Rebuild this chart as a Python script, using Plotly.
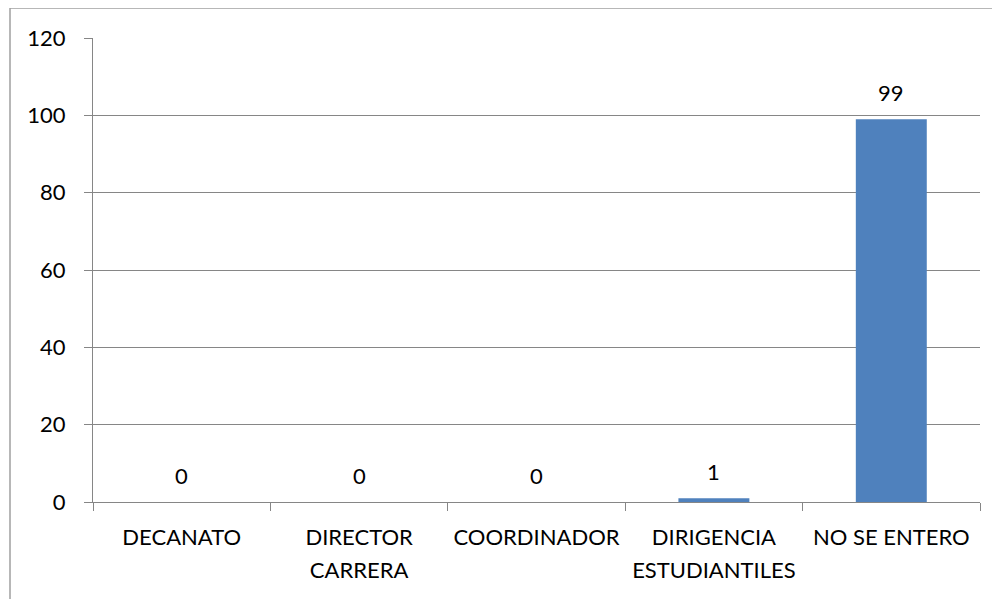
import plotly.graph_objects as go

categories = ["DECANATO", "DIRECTOR<br>CARRERA", "COORDINADOR", "DIRIGENCIA<br>ESTUDIANTILES", "NO SE ENTERO"]
values = [0, 0, 0, 1, 99]
y_ticks = [0, 20, 40, 60, 80, 100, 120]

# page has an 8px body margin; target positions are in screen pixels
OFF = 8
W, H = 1000, 599
left, right, top, bottom = 93, 980, 38, 502  # plot area on screen
ml = left - OFF
mt = top - OFF
mr = W - (right - OFF)
mb = H - (bottom - OFF)
pw, ph = right - left, bottom - top

def px_x(p):
    return (p - left) / pw

def px_y(p):
    return (bottom - p) / ph

FS = 22
tick_text = ["<span style='font-size:%dpx'>%s</span>" % (FS, c.replace("<br>", "</span><br><span style='font-size:%dpx'>" % FS)) for c in categories]

fig = go.Figure(go.Bar(
    x=categories, y=values,
    marker=dict(color="#4F81BD", line=dict(width=0)),
    width=0.4,
    hoverinfo="skip",
))

for c, v in zip(categories, values):
    fig.add_annotation(
        x=c, y=v, text=str(v), showarrow=False, yanchor="bottom",
        yshift=11, font=dict(size=FS, color="#000000"),
    )

fig.update_layout(
    width=W, height=H,
    margin=dict(l=ml, r=mr, t=mt, b=mb),
    paper_bgcolor="white", plot_bgcolor="white",
    font=dict(family="Lato, Open Sans, sans-serif", size=FS, color="#000000"),
    showlegend=False,
    xaxis=dict(
        type="category", showgrid=False, showline=True, linecolor="#868686", linewidth=1,
        ticks="outside", tickson="boundaries", ticklen=8, tickcolor="#868686",
        tickvals=categories, ticktext=tick_text,
        tickfont=dict(size=25), ticklabelstandoff=12, fixedrange=True,
    ),
    yaxis=dict(
        range=[0, 120], tickvals=y_ticks, showgrid=True, gridcolor="#868686", gridwidth=1,
        showline=True, linecolor="#868686", linewidth=1, ticks="outside", ticklen=8,
        tickcolor="#868686", tickfont=dict(size=FS), ticklabelstandoff=14,
        zeroline=False, fixedrange=True,
    ),
    shapes=[dict(
        type="rect", xref="paper", yref="paper",
        x0=px_x(10), x1=px_x(1010), y0=px_y(620), y1=px_y(8),
        line=dict(color="#A0A0A0", width=1.5), fillcolor="rgba(0,0,0,0)", layer="below",
    )],
)

fig.write_html("out.html")
